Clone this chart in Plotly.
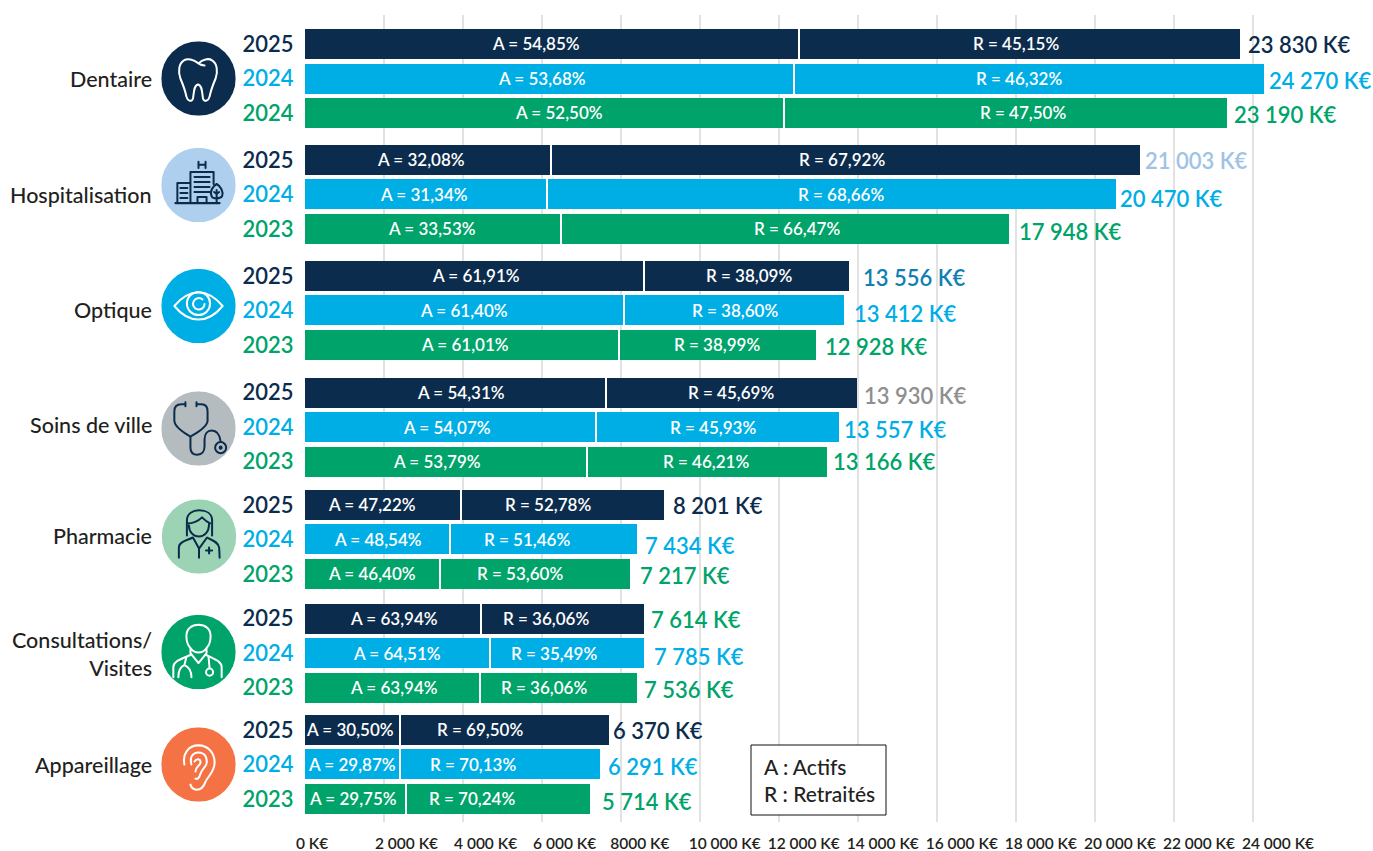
import base64
import plotly.graph_objects as go

# ---------- data ----------
CATEGORIES = ["Dentaire", "Hospitalisation", "Optique", "Soins de ville", "Pharmacie",
              "Consultations/<br>Visites", "Appareillage"]
YEARS = [[2025, 2024, 2024], [2025, 2024, 2023], [2025, 2024, 2023], [2025, 2024, 2023],
         [2025, 2024, 2023], [2025, 2024, 2023], [2025, 2024, 2023]]
# drawn lengths (K€)
ACTIFS_LEN = [12486, 12359, 12131, 6236, 6135, 6489, 8589, 8083, 7932, 7603, 7350, 7122,
              3959, 3681, 3403, 4465, 4693, 4440, 2404, 2416, 2555]
TOTAL_LEN = [23643, 24275, 23314, 21113, 20506, 17799, 13751, 13624, 12916, 13953, 13498, 13194,
             9070, 8387, 8235, 8564, 8589, 8387, 7679, 7451, 7223]
A_PCT = ["54,85", "53,68", "52,50", "32,08", "31,34", "33,53", "61,91", "61,40", "61,01",
         "54,31", "54,07", "53,79", "47,22", "48,54", "46,40", "63,94", "64,51", "63,94",
         "30,50", "29,87", "29,75"]
R_PCT = ["45,15", "46,32", "47,50", "67,92", "68,66", "66,47", "38,09", "38,60", "38,99",
         "45,69", "45,93", "46,21", "52,78", "51,46", "53,60", "36,06", "35,49", "36,06",
         "69,50", "70,13", "70,24"]
TOTAL_LABELS = ["23 830 K€", "24 270 K€", "23 190 K€", "21 003 K€", "20 470 K€", "17 948 K€",
                "13 556 K€", "13 412 K€", "12 928 K€", "13 930 K€", "13 557 K€", "13 166 K€",
                "8 201 K€", "7 434 K€", "7 217 K€", "7 614 K€", "7 785 K€", "7 536 K€",
                "6 370 K€", "6 291 K€", "5 714 K€"]
X_TICKS = list(range(0, 24001, 2000))
X_TICK_LABELS = ["0 K€" + "\u00a0" * 8, "2 000 K€", "4 000 K€", "6 000 K€", "8000 K€\u00a0\u00a0",
                 "\u00a010 000 K€", "\u00a012 000 K€", "\u00a014 000 K€", "\u00a016 000 K€",
                 "\u00a018 000 K€", "\u00a020 000 K€", "\u00a022 000 K€", "\u00a024 000 K€"]

# ---------- styling / layout ----------
FONT = "Lato"
NAVY, BLUE, GREEN = "#0c2c4e", "#00aee6", "#00a369"
ROW_COLORS = [NAVY, BLUE, GREEN]
GROUP_STEP = [3.36, 3.36, 3.39, 3.25, 3.30, 3.22]   # rows between two groups
A_DX = [-15, -7, 15, -7, -2, -1, 2, 0, 4, 6, -3, -8, -11, 1, 0, 1, 0, 2, -2, 0, -2]
R_DX = [-3, -9, 18, -3, 10, 12, 3, 2, 0, 0, -4, 0, -14, -16, -15, -16, -13, -14, -24, -27, -26]
LABEL_DX = [9, 5, 8, 6, 5, 11, 15, 11, 10, 8, 6, 7, 10, 9, 10, 8, 10, 8, 5, 9, 12]
LABEL_DY = [1, 2, 2, 1, 4, 3, 2, 3, 2, 3, 2, 0, 1, 6, 2, 1, 3, 2, 1, 2, 3]
LABEL_COLORS = {3: "#9fc3e4", 6: "#0f7fb3", 9: "#8f8f8f", 15: GREEN}

W, H = 1373, 851
ROW_PX = 34.5
X0_PX = 304.5
K_PER_PX = 25.3
Y_TOP, Y_BOTTOM = 15, 822
FIRST_ROW_PX = 44
HALF_GAP = 1 * K_PER_PX   # half of the white slit between the two parts of a bar

rows, start = [], 0.0
for g in range(len(CATEGORIES)):
    rows += [start, start + 1, start + 2]
    if g < len(GROUP_STEP):
        start += GROUP_STEP[g]

recolor = [ROW_COLORS[i % 3] for i in range(len(rows))]

fig = go.Figure()
bar_kw = dict(orientation="h", width=30 / ROW_PX, hoverinfo="skip", showlegend=False)
fig.add_bar(y=rows, x=[a - HALF_GAP for a in ACTIFS_LEN], name="Actifs",
            marker=dict(color=recolor, line=dict(width=0)), **bar_kw)
fig.add_bar(y=rows, base=[a + HALF_GAP for a in ACTIFS_LEN],
            x=[t - a - HALF_GAP for t, a in zip(TOTAL_LEN, ACTIFS_LEN)], name="Retraités",
            marker=dict(color=recolor, line=dict(width=0)), **bar_kw)

ann = []
for i, r in enumerate(rows):
    a, t = ACTIFS_LEN[i], TOTAL_LEN[i]
    white = dict(family=FONT, size=17, color="white", weight=600)
    ann.append(dict(x=a / 2, y=r, xref="x", yref="y", text=f"A = {A_PCT[i]}%", showarrow=False,
                    xshift=A_DX[i], font=white))
    ann.append(dict(x=(a + t) / 2, y=r, xref="x", yref="y", text=f"R = {R_PCT[i]}%", showarrow=False,
                    xshift=R_DX[i], font=white))
    ann.append(dict(x=t, y=r, xref="x", yref="y", text=TOTAL_LABELS[i], showarrow=False,
                    xanchor="left", xshift=LABEL_DX[i] - 2, yshift=-LABEL_DY[i],
                    font=dict(family=FONT, size=22, weight=600,
                              color=LABEL_COLORS.get(i, recolor[i]))))

CAT_Y = [79, 195, 310, 425, 536, 654, 765]
for name, y in zip(CATEGORIES, CAT_Y):
    ann.append(dict(x=154 / W, y=1 - y / H, xref="paper", yref="paper", text=name, showarrow=False,
                    xanchor="right", yanchor="middle", align="right",
                    font=dict(family=FONT, size=21.5, color="#231f20", weight=500)))
ann.append(dict(x=762 / W, y=1 - 780 / H, xref="paper", yref="paper", xanchor="left", yanchor="middle",
                text="A : Actifs<br>R : Retraités", showarrow=False, align="left",
                font=dict(family=FONT, size=21, color="#222", weight=500)))
legend_box = dict(type="rect", xref="paper", yref="paper", x0=751 / W, x1=886 / W,
                  y0=1 - 815 / H, y1=1 - 745 / H, fillcolor="white", line=dict(color="#111", width=1))


# ---------- icons (drawn as small SVG pictures) ----------
def icon(bg, stroke, body, sw=2):
    svg = (f'<svg xmlns="http://www.w3.org/2000/svg" viewBox="0 0 74 74" width="296" height="296">'
           f'<circle cx="37" cy="37" r="37" fill="{bg}"/>'
           f'<g fill="none" stroke="{stroke}" stroke-width="{sw}" stroke-linecap="round" '
           f'stroke-linejoin="round">{body}</g></svg>')
    return "data:image/svg+xml;base64," + base64.b64encode(svg.encode()).decode()


TOOTH = ('<path d="M37 22C32 18 26 16.5 22.5 19C17.5 22 16.5 30 19 37C22 44 24 50 25 55C26 59 30 61 31.5 57'
         'C32.5 52 32 44 36.5 43C41 44 40.5 52 41.5 57C43 61 47 59 48 55C49 50 51 44 54 37'
         'C56.5 30 55.5 22 50.5 19C47 16.5 41 18 37 22ZM37 22C39 23.5 41 24 43 24"/>')
HOSP = ('<path d="M14 55H58M29 55V24H52V36M29 35H16V55M37 14V20M44 14V20M37 17H44'
        'M33 29H48M33 34H48M33 39H48M33 44H48M19 40H26M19 45H26M19 50H26M36 55V49H45V55"/>'
        '<path d="M55 36C59 38 62 44 60.5 48C59 51 51 51 50 48C48 44 51 38 55 36ZM55 42V55M55 46L52.5 44M55 46L57.5 44"/>')
EYE = ('<path d="M13 37C22 26 30 23.5 37 23.5C44 23.5 52 26 61 37C52 48 44 50.5 37 50.5C30 50.5 22 48 13 37Z"/>'
       '<circle cx="37" cy="34.5" r="11.5"/><path d="M41 30.5A5.7 5.7 0 1 0 43 35"/>')
STETH = ('<path d="M24 13H20C15 13 13 15 13 20V29C13 36 24 42 29 45C34 42 46 36 46 29V20C46 15 44 13 40 13H35'
         'M24 11V15M35 11V15M29 45V56C29 61 32 63 36 63C40 63 43 60 43 55V48C43 42 46 39 50 39C54 39 58 42 59 50"/>'
         '<circle cx="59" cy="56" r="5.5"/><circle cx="59" cy="56" r="1" />')
PHARM = ('<path d="M25 36V21C25 14 31 11 37 11C44 11 50 14 50 21V36M25 24C31 24 37 21 40 18C43 21 46 23 48 24'
         'M27 26C27 33 32 37 37 37C42 37 47 33 47 24"/>'
         '<path d="M17 58V48C17 42 25 41 31 38L37 49L45 38C50 41 56 42 57 48L57.5 58M37 49V58M47 48V54M44 51H50"/>')
DOC = ('<path d="M37 10C30 10 25 14 25 21C25 28 27 31 29 33C31 36 34 37.5 37 37.5C40 37.5 43 36 45 33'
       'C47 31 49 28 49 21C49 14 44 10 37 10ZM29 33V38L37 48L45 38V33'
       'M12 62V52C12 46 20 44 29 40M60 62V52C60 46 52 44 45 40"/>'
       '<path d="M25 42L23 50C18 52 17 56 17 62M23 50C28 52 30 56 30 62M47 42L48 53"/>'
       '<circle cx="48" cy="57" r="3.5"/>')
EAR = ('<path d="M23 37C21 26 27 18 37 18C47 18 53 26 53 35C53 44 47 48 44 54C42 60 38 62 35 62C32 62 30 60 29 57"/>'
       '<path d="M30 37C28 30 31 25 37 25C43 25 46 30 45 36C44 40 41 41 39 46C38 50 36 52 34 51"/>'
       '<path d="M33 34C35 31 39 31 39 35C39 38 34 39 34 44"/>')

ICONS = [(NAVY, "white", TOOTH), ("#aed0ee", NAVY, HOSP), (BLUE, "white", EYE), ("#b4bcc0", NAVY, STETH),
         ("#9bd3b4", NAVY, PHARM), (GREEN, "white", DOC), ("#f47243", "white", EAR)]
ICON_CENTERS = [(198.5, 78.5), (198.5, 185), (198.5, 306), (198.5, 428.5), (199, 536.5), (198.5, 652), (198.5, 764.5)]
ICON_D = 74.5
images = [dict(source=icon(bg, st, body), xref="paper", yref="paper",
               x=(cx - ICON_D / 2) / W, y=1 - (cy - ICON_D / 2) / H,
               sizex=ICON_D / W, sizey=ICON_D / H, sizing="stretch", xanchor="left", yanchor="top",
               layer="above")
          for (bg, st, body), (cx, cy) in zip(ICONS, ICON_CENTERS)]

year_flat = [y for grp in YEARS for y in grp]
y_text = [f'<span style="color:{c}">{y}</span>' for y, c in zip(year_flat, recolor)]

fig.update_layout(
    width=W, height=H, autosize=False, barmode="overlay", bargap=0,
    margin=dict(l=0, r=0, t=0, b=0, pad=0),
    paper_bgcolor="white", plot_bgcolor="white",
    font=dict(family=FONT),
    annotations=ann, images=images, shapes=[legend_box],
    xaxis=dict(domain=[X0_PX / W, 1], range=[0, (W - X0_PX) * K_PER_PX], showline=False, zeroline=False,
               automargin=False,
               showgrid=True, gridcolor="#e2e2e2", gridwidth=2, tickmode="array",
               tickvals=X_TICKS, ticktext=X_TICK_LABELS, ticks="", ticklabelshift=23, ticklabelstandoff=10,
               tickfont=dict(family=FONT, size=15.5, color="#231f20", weight=600)),
    yaxis=dict(domain=[1 - Y_BOTTOM / H, 1 - Y_TOP / H], automargin=False,
               range=[(Y_BOTTOM - FIRST_ROW_PX) / ROW_PX, (Y_TOP - FIRST_ROW_PX) / ROW_PX],
               showgrid=False, zeroline=False, showline=False, ticks="", tickmode="array",
               tickvals=rows, ticktext=y_text, ticklabelstandoff=10,
               tickfont=dict(family=FONT, size=22, weight=600)),
)

fig.write_html("out.html", config={"displayModeBar": False},
               post_script="document.body.style.margin='0';")
